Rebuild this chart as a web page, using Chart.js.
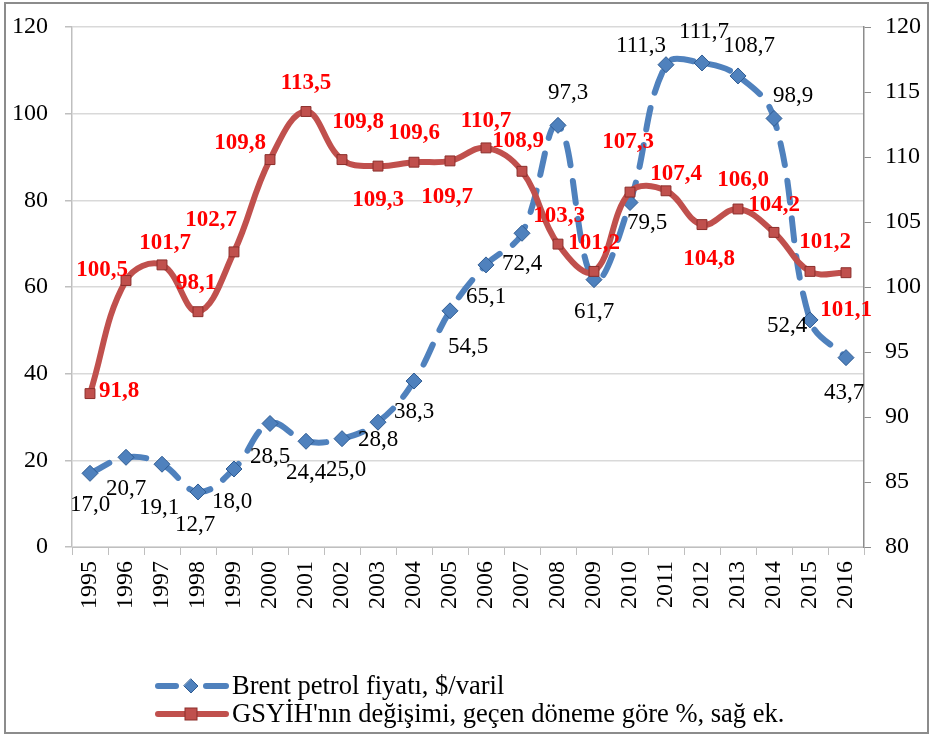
<!DOCTYPE html>
<html>
<head>
<meta charset="utf-8">
<script src="https://cdn.jsdelivr.net/npm/chart.js@4.4.1/dist/chart.umd.min.js"></script>
<style>
  html, body { margin: 0; padding: 0; background: #ffffff; }
  #wrap { width: 933px; height: 736px; position: relative; }
</style>
</head>
<body>
<div id="wrap"><canvas id="c" width="933" height="736"></canvas></div>
<script>
// ---- data ----
const years = ['1995','1996','1997','1998','1999','2000','2001','2002','2003','2004','2005','2006','2007','2008','2009','2010','2011','2012','2013','2014','2015','2016'];
const brentPrice = [17.0, 20.7, 19.1, 12.7, 18.0, 28.5, 24.4, 25.0, 28.8, 38.3, 54.5, 65.1, 72.4, 97.3, 61.7, 79.5, 111.3, 111.7, 108.7, 98.9, 52.4, 43.7];
const gdpChange = [91.8, 100.5, 101.7, 98.1, 102.7, 109.8, 113.5, 109.8, 109.3, 109.6, 109.7, 110.7, 108.9, 103.3, 101.2, 107.3, 107.4, 104.8, 106.0, 104.2, 101.2, 101.1];
const leftTicks = [0, 20, 40, 60, 80, 100, 120];
const rightTicks = [80, 85, 90, 95, 100, 105, 110, 115, 120];
const seriesNames = ['Brent petrol fiyatı, $/varil', "GSYİH'nın değişimi, geçen döneme göre %, sağ ek."];

// ---- styling (label offsets in px relative to each point) ----
const brentLabelOffsets = [[0,32],[0,32],[-3,44],[-3,33],[-2,33],[0,33],[0,32],[4,31],[0,18],[0,31],[18,36],[0,32],[0,31],[10,-32],[0,32],[17,20],[-25,-19],[2,-31],[11,-30],[19,-22],[-23,6],[-2,35]];
const gdpLabelOffsets = [[29,-3],[-24,-10],[3,-22],[-2,-29],[-23,-32],[-30,-17],[0,-28],[16,-38],[0,34],[0,-29],[-3,36],[0,-27],[-4,-30],[1,-28],[0,-28],[-2,-50],[10,-17],[7,34],[5,-29],[0,-27],[15,-29],[0,37]];

const BLUE = '#4F81BD', BLUE_D = '#2F5C93';
const RED = '#C0504D', RED_D = '#8B2E2B';
const SERIF = "'Liberation Serif', 'Times New Roman', serif";

const frame = {
  id: 'frame',
  beforeDraw(chart) {
    const ctx = chart.ctx;
    ctx.save();
    ctx.fillStyle = '#ffffff';
    ctx.fillRect(0, 0, chart.width, chart.height);
    ctx.strokeStyle = '#8c8c8c';
    ctx.lineWidth = 2;
    ctx.strokeRect(5, 3, 923, 730);
    ctx.restore();
  }
};

const pointLabels = {
  id: 'pointLabels',
  afterDatasetsDraw(chart) {
    const ctx = chart.ctx;
    ctx.save();
    ctx.textAlign = 'center';
    ctx.textBaseline = 'middle';
    const cfg = [
      { ds: 0, offs: brentLabelOffsets, font: '23px ' + SERIF, color: '#000000' },
      { ds: 1, offs: gdpLabelOffsets, font: 'bold 23px ' + SERIF, color: '#FF0000' }
    ];
    cfg.forEach(c => {
      const meta = chart.getDatasetMeta(c.ds);
      const vals = chart.data.datasets[c.ds].data;
      ctx.font = c.font;
      ctx.fillStyle = c.color;
      meta.data.forEach((pt, i) => {
        const o = c.offs[i];
        ctx.fillText(vals[i].toFixed(1).replace('.', ','), pt.x + o[0], pt.y + o[1]);
      });
    });
    ctx.restore();
  }
};

function diamond(ctx, x, y, r, fill, stroke) {
  ctx.beginPath();
  ctx.moveTo(x, y - r); ctx.lineTo(x + r, y); ctx.lineTo(x, y + r); ctx.lineTo(x - r, y); ctx.closePath();
  ctx.fillStyle = fill; ctx.fill();
  ctx.strokeStyle = stroke; ctx.lineWidth = 1; ctx.stroke();
}

const legendDraw = {
  id: 'legendDraw',
  afterDraw(chart) {
    const ctx = chart.ctx;
    ctx.save();
    ctx.lineCap = 'round';
    // row 1
    let y = 686;
    ctx.strokeStyle = BLUE; ctx.lineWidth = 6;
    ctx.beginPath(); ctx.moveTo(158, y); ctx.lineTo(176, y); ctx.stroke();
    ctx.beginPath(); ctx.moveTo(206, y); ctx.lineTo(226, y); ctx.stroke();
    diamond(ctx, 191, y, 7, BLUE, BLUE_D);
    ctx.fillStyle = '#000'; ctx.font = '26.5px ' + SERIF; ctx.textBaseline = 'middle'; ctx.textAlign = 'left';
    ctx.fillText(seriesNames[0], 232, y + 1);
    // row 2
    y = 714;
    ctx.strokeStyle = RED; ctx.lineWidth = 6;
    ctx.beginPath(); ctx.moveTo(158, y); ctx.lineTo(226, y); ctx.stroke();
    ctx.fillStyle = RED; ctx.fillRect(185, y - 6, 12, 12);
    ctx.strokeStyle = RED_D; ctx.lineWidth = 1; ctx.strokeRect(185, y - 6, 12, 12);
    ctx.fillStyle = '#000';
    ctx.fillText(seriesNames[1], 232, y + 1);
    ctx.restore();
  }
};

new Chart(document.getElementById('c'), {
  type: 'line',
  data: {
    labels: years,
    datasets: [
      {
        label: seriesNames[0], data: brentPrice, yAxisID: 'y', order: 2,
        borderColor: BLUE, borderWidth: 6, borderDash: [22, 16], borderCapStyle: 'round',
        tension: 0.4, cubicInterpolationMode: 'default',
        pointStyle: 'rectRot', pointRadius: 8, pointBackgroundColor: BLUE, pointBorderColor: BLUE_D, pointBorderWidth: 1
      },
      {
        label: seriesNames[1], data: gdpChange, yAxisID: 'y2', order: 1,
        borderColor: RED, borderWidth: 6, borderCapStyle: 'round',
        tension: 0.4,
        pointStyle: 'rect', pointRadius: 7, pointBackgroundColor: RED, pointBorderColor: RED_D, pointBorderWidth: 1
      }
    ]
  },
  options: {
    responsive: false,
    animation: false,
    events: [],
    layout: { padding: { top: 27, left: 0, right: 0, bottom: 0 } },
    plugins: { legend: { display: false }, tooltip: { enabled: false } },
    scales: {
      x: {
        offset: true,
        afterFit: s => { s.height = 736 - 547; s.paddingLeft = 0; s.paddingRight = 0; },
        grid: { drawOnChartArea: false, drawTicks: true, tickLength: 8, offset: true, color: '#bfbfbf', lineWidth: 1 },
        border: { color: '#bfbfbf', width: 1 },
        ticks: { minRotation: 90, maxRotation: 90, autoSkip: false, padding: 6, color: '#000', font: { family: SERIF, size: 24 } }
      },
      y: {
        position: 'left', min: 0, max: 120,
        afterFit: s => { s.width = 72; s.paddingTop = 0; s.paddingBottom = 0; },
        afterBuildTicks: s => { s.ticks = leftTicks.map(v => ({ value: v })); },
        grid: { color: '#d9d9d9', lineWidth: 1.5, tickLength: 7, tickColor: '#bfbfbf' },
        border: { color: '#bfbfbf', width: 1.5 },
        ticks: { padding: 17, color: '#000', font: { family: SERIF, size: 24 } }
      },
      y2: {
        position: 'right', min: 80, max: 120,
        afterFit: s => { s.width = 933 - 864; s.paddingTop = 0; s.paddingBottom = 0; },
        afterBuildTicks: s => { s.ticks = rightTicks.map(v => ({ value: v })); },
        grid: { drawOnChartArea: false, tickLength: 7, color: '#8c8c8c' },
        border: { color: '#8c8c8c', width: 1.5 },
        ticks: { padding: 14, color: '#000', font: { family: SERIF, size: 24 } }
      }
    }
  },
  plugins: [frame, pointLabels, legendDraw]
});
</script>
</body>
</html>
